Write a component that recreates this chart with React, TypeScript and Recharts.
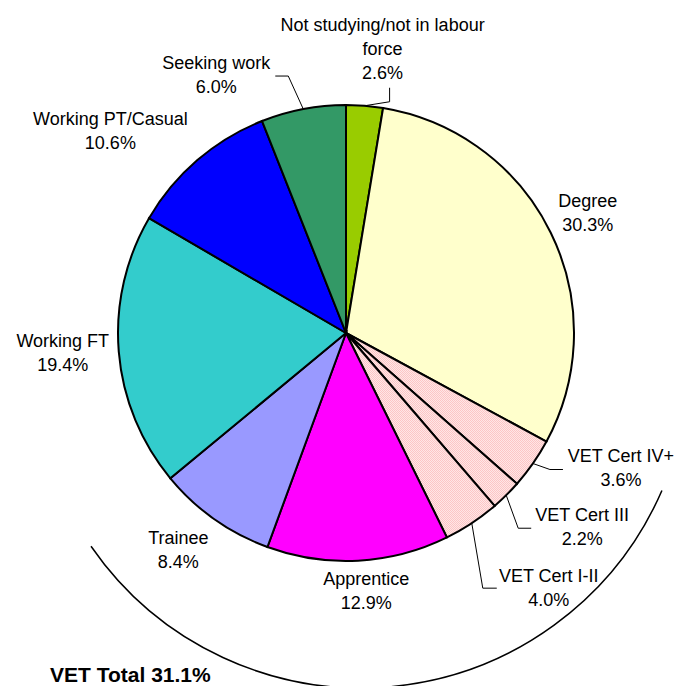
import React from 'react';
import { PieChart, Pie, Cell } from 'recharts';

// Share of school leavers by destination (%)
const CATEGORIES = [
  'Not studying/not in labour\nforce',
  'Degree',
  'VET Cert IV+',
  'VET Cert III',
  'VET Cert I-II',
  'Apprentice',
  'Trainee',
  'Working FT',
  'Working PT/Casual',
  'Seeking work',
];
const SHARES = [2.6, 30.3, 3.6, 2.2, 4.0, 12.9, 8.4, 19.4, 10.6, 6.0];
const IS_VET = [false, false, true, true, true, true, true, false, false, false];

const COLORS = [
  '#99cc00', '#ffffcc', 'url(#vetHatch)', 'url(#vetHatch)', 'url(#vetHatch)',
  '#ff00ff', '#9999ff', '#33cccc', '#0000ff', '#339966',
];

// label placement relative to the slice's outer edge midpoint
const LABEL_OFFSETS: [number, number][] = [
  [18, -75], [37, -26], [88, -2], [76, 26], [77, 59],
  [8, 24], [-36, 25], [-56, -5], [-87, -35], [-87, -40],
];
// leader lines (elbow, end) relative to the same point
const LEADERS: ([number, number][] | null)[] = [
  [[25, -4], [25, -18]],
  null,
  [[17, 6], [30, 6]],
  [[12, 33], [25, 33]],
  [[11, 65], [25, 65]],
  null, null, null, null,
  [[-15, -33], [-28, -33]],
];

const RADIAN = Math.PI / 180;
const FONT = '"Liberation Sans", Arial, sans-serif';

const pieData = CATEGORIES.map((name, i) => ({ name, value: SHARES[i] }));

// arc bracket around the VET slices
const firstVet = IS_VET.indexOf(true);
const vetTotal = SHARES.filter((_v, i) => IS_VET[i]).reduce((a, b) => a + b, 0);
const beforeVet = SHARES.slice(0, firstVet).reduce((a, b) => a + b, 0);
const arcData = [
  { name: 'before', value: beforeVet },
  { name: 'vet', value: vetTotal },
  { name: 'after', value: 100 - beforeVet - vetTotal },
];

const renderLabel = (props: any) => {
  const { cx, cy, midAngle, outerRadius, index } = props;
  const ex = cx + outerRadius * Math.cos(-midAngle * RADIAN);
  const ey = cy + outerRadius * Math.sin(-midAngle * RADIAN);
  const [ox, oy] = LABEL_OFFSETS[index];
  const tx = ex + ox;
  const ty = ey + oy;
  const lines = [...CATEGORIES[index].split('\n'), SHARES[index].toFixed(1) + '%'];
  const leader = LEADERS[index];
  return (
    <g key={`lbl-${index}`}>
      {leader && (
        <polyline
          points={[[0, 0], ...leader].map(([dx, dy]) => `${ex + dx},${ey + dy}`).join(' ')}
          fill="none"
          stroke="#000"
          strokeWidth={1}
        />
      )}
      <text x={tx} y={ty} textAnchor="middle" fontSize={18} fontFamily={FONT} fill="#000">
        {lines.map((l, i) => (
          <tspan key={i} x={tx} dy={i === 0 ? 0 : 24}>{l}</tspan>
        ))}
      </text>
    </g>
  );
};

const renderArc = (props: any) => {
  const { cx, cy, outerRadius, startAngle, endAngle, index } = props;
  if (index !== 1) return null;
  const a0 = Math.max(startAngle, endAngle) + 5;
  const a1 = Math.min(startAngle, endAngle) - 5;
  const x0 = cx + outerRadius * Math.cos(a0 * RADIAN);
  const y0 = cy - outerRadius * Math.sin(a0 * RADIAN);
  const x1 = cx + outerRadius * Math.cos(a1 * RADIAN);
  const y1 = cy - outerRadius * Math.sin(a1 * RADIAN);
  const large = a0 - a1 > 180 ? 1 : 0;
  return (
    <path
      key="vet-arc"
      d={`M${x0},${y0} A${outerRadius},${outerRadius} 0 ${large} 1 ${x1},${y1}`}
      fill="none"
      stroke="#000"
      strokeWidth={1.5}
    />
  );
};

export default function App() {
  return (
    <div style={{ position: 'absolute', left: 0, top: 0, width: 676, height: 686, background: '#fff', overflow: 'hidden' }}>
      <svg width={0} height={0} style={{ position: 'absolute' }}>
        <defs>
          <pattern id="vetHatch" patternUnits="userSpaceOnUse" width={2} height={2}>
            <rect width={2} height={2} fill="#ffe6e6" />
            <rect width={1} height={1} fill="#fcc6c6" />
            <rect x={1} y={1} width={1} height={1} fill="#fcc6c6" />
          </pattern>
        </defs>
      </svg>
      <PieChart width={676} height={686} margin={{ top: 0, right: 0, bottom: 0, left: 0 }}>
        <Pie
          data={arcData}
          dataKey="value"
          cx={361}
          cy={360}
          outerRadius={328}
          innerRadius={0}
          startAngle={90}
          endAngle={-270}
          stroke="none"
          label={renderArc}
          labelLine={false}
          isAnimationActive={false}
        >
          {arcData.map((_d, i) => (
            <Cell key={`arc-${i}`} fill="none" stroke="none" />
          ))}
        </Pie>
        <Pie
          data={pieData}
          dataKey="value"
          cx={346}
          cy={333}
          outerRadius={228}
          startAngle={90}
          endAngle={-270}
          stroke="#000"
          strokeWidth={2}
          label={renderLabel}
          labelLine={false}
          isAnimationActive={false}
        >
          {pieData.map((_d, i) => (
            <Cell key={`cell-${i}`} fill={COLORS[i]} />
          ))}
        </Pie>
      </PieChart>
      <div
        style={{
          position: 'absolute',
          left: 50,
          top: 664,
          fontFamily: FONT,
          fontWeight: 'bold',
          fontSize: 21,
          lineHeight: '21px',
          color: '#000',
          whiteSpace: 'nowrap',
        }}
      >
        VET Total {vetTotal.toFixed(1)}%
      </div>
    </div>
  );
}
